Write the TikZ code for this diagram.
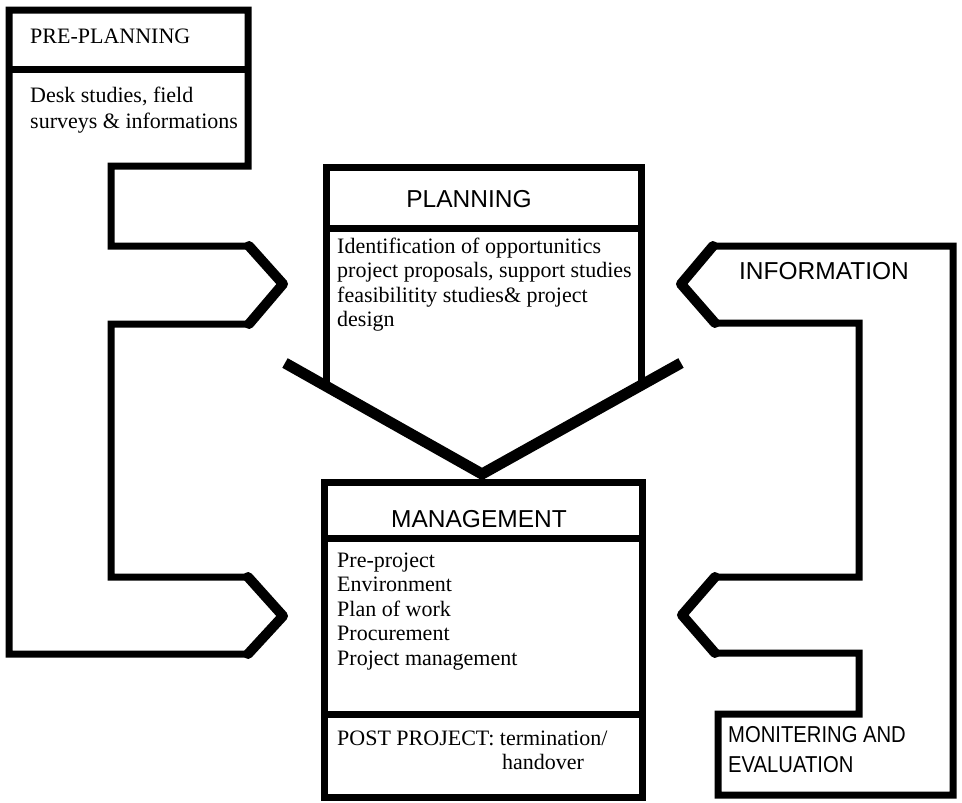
\documentclass[tikz,border=0pt]{standalone}
\usepackage{fontspec}
\setmainfont{Liberation Serif}
\newfontfamily\hdr{Liberation Sans}
\newfontfamily\hdrn[FakeStretch=0.88]{Liberation Sans}
\begin{document}
\begin{tikzpicture}[x=1pt,y=-1pt,
  border/.style={line width=7pt, line join=miter},
  diag/.style={line width=10pt, line cap=round, line join=round},
  vline/.style={line width=11pt, line join=miter},
  body/.style={anchor=base west, inner sep=0pt, align=left, font=\fontsize{22}{24.5}\selectfont},
  hd/.style={anchor=base, inner sep=0pt, font=\hdr\fontsize{24.5}{26}\selectfont}]
\useasboundingbox[fill=white] (0,0) rectangle (962,803);

% ---- left shape: PRE-PLANNING
\coordinate (l1) at (9,10);   \coordinate (l2) at (248,10);
\coordinate (l3) at (248,166);\coordinate (l4) at (111,166);
\coordinate (l5) at (111,246);\coordinate (l6) at (249,246);
\coordinate (l7) at (283,284);\coordinate (l8) at (249,324);
\coordinate (l9) at (111,324);\coordinate (l10) at (111,577);
\coordinate (l11) at (248,577);\coordinate (l12) at (283,616);
\coordinate (l13) at (248,654);\coordinate (l14) at (9,654);
\draw[border] (l1) -- (l2) -- (l3) -- (l4) -- (l5) -- (l6) -- (l7) -- (l8) -- (l9)
  -- (l10) -- (l11) -- (l12) -- (l13) -- (l14) -- cycle;
\draw[diag] (l6) -- (l7) -- (l8);
\draw[diag] (l11) -- (l12) -- (l13);
\coordinate (ld1) at (9,69); \coordinate (ld2) at (248,69);
\draw[border] (ld1) -- (ld2);

% ---- planning box with V
\coordinate (p1) at (326,386); \coordinate (p2) at (326,167);
\coordinate (p3) at (641,167); \coordinate (p4) at (641,385);
\draw[border] (p1) -- (p2) -- (p3) -- (p4);
\coordinate (pd1) at (326,228); \coordinate (pd2) at (641,228);
\draw[border] (pd1) -- (pd2);
\coordinate (v1) at (285,363); \coordinate (v2) at (482,474); \coordinate (v3) at (681,363);
\draw[vline] (v1) -- (v2) -- (v3);

% ---- management box
\coordinate (m1) at (324,482); \coordinate (m2) at (642,482);
\coordinate (m3) at (642,797); \coordinate (m4) at (324,797);
\draw[border] (m1) -- (m2) -- (m3) -- (m4) -- cycle;
\coordinate (md1) at (324,538); \coordinate (md2) at (642,538);
\coordinate (md3) at (324,714); \coordinate (md4) at (642,714);
\draw[border] (md1) -- (md2);
\draw[border] (md3) -- (md4);

% ---- right shape: INFORMATION
\coordinate (r1) at (713,246);  \coordinate (r2) at (953,246);
\coordinate (r3) at (953,795);  \coordinate (r4) at (718,795);
\coordinate (r5) at (718,714);  \coordinate (r6) at (859,714);
\coordinate (r7) at (859,653);  \coordinate (r8) at (715,653);
\coordinate (r9) at (682,615);  \coordinate (r10) at (715,577);
\coordinate (r11) at (859,577); \coordinate (r12) at (859,323);
\coordinate (r13) at (715,323); \coordinate (r14) at (681,284);
\draw[border] (r1) -- (r2) -- (r3) -- (r4) -- (r5) -- (r6) -- (r7) -- (r8) -- (r9)
  -- (r10) -- (r11) -- (r12) -- (r13) -- (r14) -- cycle;
\draw[diag] (r1) -- (r14) -- (r13);
\draw[diag] (r10) -- (r9) -- (r8);

% ---- texts (multi-line nodes: base = last line's baseline)
\node[body] (pre) at (30,43) {PRE-PLANNING};
\node[body, font=\fontsize{22}{26}\selectfont] (preb) at (30,128) {Desk studies, field\\surveys \& informations};
\node[hd] (plan) at (469,207) {PLANNING};
\node[body] (planb) at (337,326.5) {Identification of opportunitics\\project proposals, support studies\\feasibilitity studies\& project\\design};
\node[hd] (mgmt) at (479,527) {MANAGEMENT};
\node[body] (mgmtb) at (337,665) {Pre-project\\Environment\\Plan of work\\Procurement\\Project management};
\node[body] (post) at (337,745) {POST PROJECT: termination/};
\node[body] (hand) at (502,769) {handover};
\node[hd] (info) at (824,279) {INFORMATION};
\node[body, font=\hdrn\fontsize{23}{30}\selectfont] (mon) at (728,772) {MONITERING AND\\EVALUATION};
\end{tikzpicture}
\end{document}
